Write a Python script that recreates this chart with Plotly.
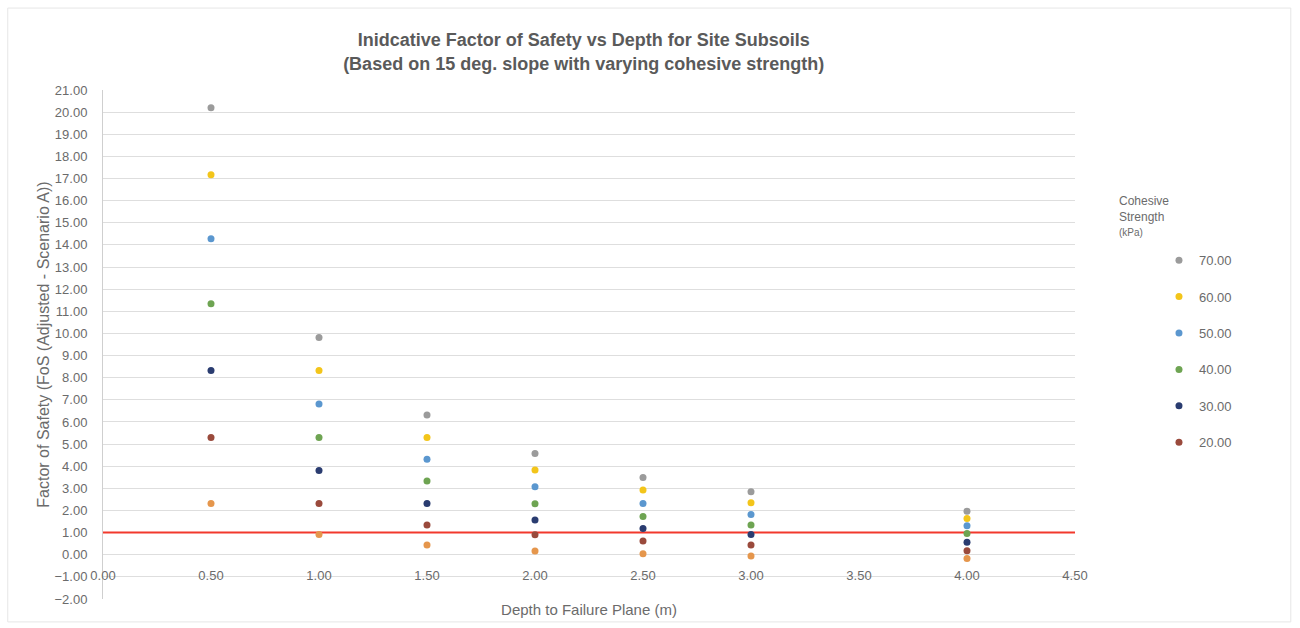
import plotly.graph_objects as go

# Depth to failure plane (m)
depth = [0.5, 1.0, 1.5, 2.0, 2.5, 3.0, 4.0]

# Factor of safety for each cohesive strength (kPa)
fos_70 = [20.20, 9.82, 6.31, 4.58, 3.49, 2.85, 1.97]
fos_60 = [17.17, 8.33, 5.30, 3.83, 2.92, 2.35, 1.64]
fos_50 = [14.28, 6.81, 4.31, 3.07, 2.32, 1.82, 1.31]
fos_40 = [11.34, 5.30, 3.33, 2.30, 1.73, 1.34, 0.96]
fos_30 = [8.33, 3.81, 2.32, 1.57, 1.19, 0.92, 0.56]
fos_20 = [5.30, 2.32, 1.34, 0.90, 0.62, 0.44, 0.18]
fos_10 = [2.32, 0.92, 0.44, 0.17, 0.05, -0.06, -0.17]

series_names = ["70.00", "60.00", "50.00", "40.00", "30.00", "20.00"]
series_values = [fos_70, fos_60, fos_50, fos_40, fos_30, fos_20]
series_colors = ["#9b9b9b", "#f3c51a", "#5b97cf", "#6ea452", "#2a3c70", "#9a4a3c"]
unlisted_color = "#e5964c"

# Threshold line FoS = 1.0
limit_x = [0.0, 4.5]
limit_y = [1.0, 1.0]

TEXT = "#6b6b6b"
FONT = "Liberation Sans, Arial, sans-serif"

fig = go.Figure()

fig.add_trace(go.Scatter(
    x=limit_x, y=limit_y, mode="lines",
    line=dict(color="#f2392c", width=2),
    showlegend=False, hoverinfo="skip",
))

fig.add_trace(go.Scatter(
    x=depth, y=fos_10, mode="markers",
    marker=dict(color=unlisted_color, size=7),
    showlegend=False, name="10.00",
))

for name, vals, col in zip(series_names, series_values, series_colors):
    fig.add_trace(go.Scatter(
        x=depth, y=vals, mode="markers", name=name,
        legendgroup=name,
        marker=dict(color=col, size=7),
    ))

fig.update_layout(
    width=1300, height=628,
    margin=dict(l=103, r=225, t=90, b=29),
    paper_bgcolor="white", plot_bgcolor="white",
    font=dict(family=FONT, color=TEXT, size=12),
    title=dict(
        text="Inidcative Factor of Safety vs Depth for Site Subsoils<br>"
             "(Based on 15 deg. slope with varying cohesive strength)",
        x=0.449, xanchor="center", y=0.926, yanchor="middle",
        font=dict(family="Liberation Sans Narrow, Liberation Sans, Arial, sans-serif",
                  size=18, color="#5a5a5a", weight="bold"),
    ),
    showlegend=True,
    legend=dict(
        x=1.0864, xanchor="left", y=0.695, yanchor="top",
        traceorder="grouped", tracegroupgap=16.5,
        font=dict(size=13, color=TEXT),
        bgcolor="rgba(0,0,0,0)", itemwidth=30,
    ),
    xaxis=dict(
        range=[0, 4.5], dtick=0.5, tick0=0, tickformat=".2f",
        showgrid=False, zeroline=False, showline=False, ticks="",
        anchor="free", position=0.065,
        tickfont=dict(size=13, color=TEXT),
        title=dict(text="Depth to Failure Plane (m)", standoff=22,
                   font=dict(size=15, color=TEXT)),
        automargin=False,
    ),
    yaxis=dict(
        range=[-2, 21], dtick=1, tick0=0, tickformat=".2f",
        showgrid=True, gridcolor="#dedede", gridwidth=1,
        zeroline=False, showline=True, linecolor="#cfcfcf", linewidth=1,
        ticks="", ticklabelstandoff=12, tickfont=dict(size=13, color=TEXT),
        title=dict(text="Factor of Safety (FoS (Adjusted - Scenario A))",
                   standoff=0, font=dict(size=16, color=TEXT)),
        automargin=False,
    ),
    annotations=[dict(
        text="Cohesive<br>Strength<br><span style='font-size:10px'>(kPa)</span>",
        xref="paper", yref="paper", x=1.0432, y=0.8,
        xanchor="left", yanchor="top", align="left", showarrow=False,
        font=dict(size=12, color=TEXT),
    )],
    shapes=[dict(
        type="rect", xref="paper", yref="paper",
        x0=-0.098, x1=1.222, y0=-0.045, y1=1.161,
        line=dict(color="#e6e6e6", width=1), layer="below",
    )],
)

fig.write_html("out.html")
